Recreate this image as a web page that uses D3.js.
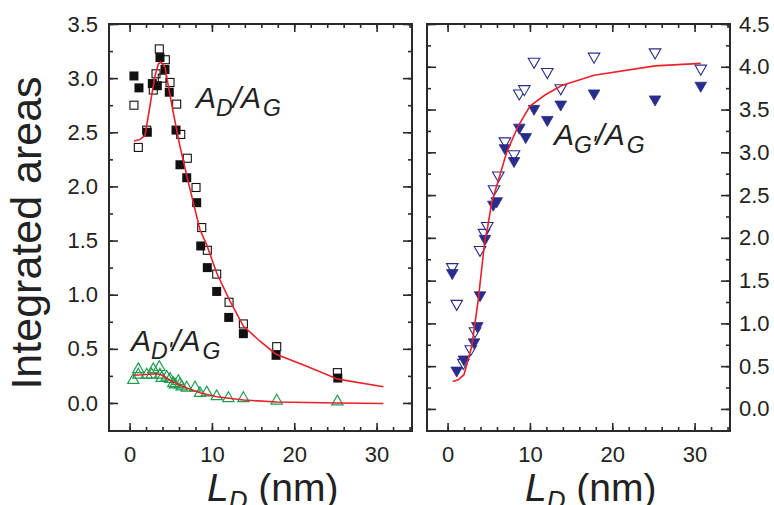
<!DOCTYPE html>
<html><head><meta charset="utf-8">
<script src="https://cdn.jsdelivr.net/npm/d3@7"></script>
<style>html,body{margin:0;padding:0;background:#fff;}svg{display:block;font-family:"Liberation Sans",Arial,sans-serif;}</style>
</head><body>
<svg id="c" width="774" height="505"></svg>
<script>
// ---- Data ----
// Left panel: A_D/A_G (filled and open squares)
const adFilledX = [0.53, 1.14, 2.15, 2.76, 3.37, 3.69, 4.30, 4.82, 5.64, 6.12, 6.94, 8.15, 8.64, 9.44, 10.58, 12.04, 13.82, 17.79, 25.29];
const adFilledY = [3.02, 2.91, 2.50, 2.95, 2.93, 3.19, 3.08, 2.87, 2.52, 2.20, 2.08, 1.85, 1.45, 1.25, 1.03, 0.79, 0.64, 0.44, 0.23];
const adOpenX = [0.53, 1.06, 2.08, 2.88, 3.21, 3.61, 3.97, 4.34, 4.91, 5.72, 6.21, 7.01, 8.07, 8.76, 9.44, 10.58, 12.08, 13.82, 17.87, 25.24];
const adOpenY = [2.75, 2.36, 2.52, 2.89, 3.04, 3.27, 3.00, 3.17, 2.96, 2.76, 2.48, 2.26, 1.99, 1.62, 1.41, 1.19, 0.93, 0.73, 0.52, 0.28];
const adFitX = [0.53, 1.18, 1.87, 2.27, 2.68, 3.09, 3.49, 3.82, 4.3, 4.7, 5.31, 6.12, 6.94, 7.74, 8.55, 9.37, 10.58, 12.2, 13.82, 15.84, 17.79, 21.52, 25.29, 30.83];
const adFitY = [2.42, 2.43, 2.47, 2.65, 2.84, 3.02, 3.13, 3.15, 3.10, 2.93, 2.68, 2.37, 2.10, 1.85, 1.60, 1.46, 1.20, 0.94, 0.71, 0.57, 0.45, 0.34, 0.22, 0.15];
// Left panel: A_D'/A_G (green open triangles)
const adpX = [0.45, 1.06, 1.06, 2.08, 2.68, 2.88, 3.61, 3.69, 3.90, 4.51, 4.91, 5.31, 5.52, 5.92, 6.12, 6.33, 6.94, 7.95, 8.55, 9.37, 10.58, 12.0, 13.82, 17.87, 25.24];
const adpY = [0.21, 0.31, 0.26, 0.26, 0.26, 0.31, 0.33, 0.26, 0.23, 0.24, 0.22, 0.18, 0.17, 0.20, 0.17, 0.15, 0.14, 0.14, 0.09, 0.095, 0.06, 0.043, 0.043, 0.02, 0.012];
const adpFitX = [0.45, 1.5, 3.29, 4.0, 4.91, 6.52, 8.55, 10.58, 13.82, 17.87, 25.29, 30.83];
const adpFitY = [0.256, 0.26, 0.27, 0.255, 0.21, 0.15, 0.095, 0.058, 0.028, 0.009, 0.0, -0.005];
// Right panel: A_G'/A_G (open and filled down-triangles)
const agOpenX = [0.57, 1.11, 1.91, 2.81, 3.33, 3.94, 4.42, 4.82, 5.64, 6.16, 6.97, 8.07, 8.71, 9.32, 10.5, 12.11, 13.74, 17.79, 25.2, 30.75];
const agOpenY = [1.66, 1.23, 0.54, 0.70, 0.91, 1.86, 2.06, 2.14, 2.57, 2.73, 3.13, 2.98, 3.69, 3.74, 4.06, 3.94, 3.75, 4.12, 4.17, 3.98];
const agFilledX = [0.57, 1.11, 1.99, 3.21, 3.61, 3.94, 4.54, 5.55, 5.97, 6.97, 8.07, 8.71, 9.49, 10.5, 12.11, 13.74, 17.79, 25.2, 30.75];
const agFilledY = [1.59, 0.45, 0.58, 0.78, 0.97, 1.33, 1.99, 2.39, 2.43, 3.05, 2.90, 3.29, 3.18, 3.51, 3.38, 3.56, 3.69, 3.62, 3.78];
const agFitX = [0.62, 1.30, 1.99, 2.93, 3.73, 4.54, 4.82, 5.36, 5.97, 7.18, 8.59, 10.01, 11.83, 13.86, 17.79, 25.2, 30.75];
const agFitY = [0.32, 0.34, 0.40, 0.73, 1.28, 1.98, 2.10, 2.41, 2.61, 3.00, 3.31, 3.54, 3.67, 3.78, 3.90, 4.01, 4.04];
// Tick labels
const xTickLabels = ["0", "10", "20", "30"];
const leftYTickLabels = ["0.0", "0.5", "1.0", "1.5", "2.0", "2.5", "3.0", "3.5"];
const rightYTickLabels = ["0.0", "0.5", "1.0", "1.5", "2.0", "2.5", "3.0", "3.5", "4.0", "4.5"];

// ---- Layout ----
const svg = d3.select("#c");
const yTop = 24, yBot = 431;
const L = {x0: 109, x1: 412}, R = {x0: 427, x1: 730};
const xL = d3.scaleLinear().domain([-2.5, 34.3]).range([L.x0, L.x1]);
const xR = d3.scaleLinear().domain([-2.5, 34.3]).range([R.x0, R.x1]);
const yL = d3.scaleLinear().domain([-0.259, 3.5]).range([yBot, yTop]);
const yR = d3.scaleLinear().domain([-0.258, 4.5]).range([yBot, yTop]);
const axisColor = "#2a2a2a";
const red = "#e8212b", navy = "#282c8a", green = "#1f9e4f";

function frame(xs, ys, yLabels, labelSide) {
  const g = svg.append("g");
  const xMinor = d3.range(0, 34.01, 2);
  const yMax = ys.domain()[1];
  const yMinor = d3.range(0, yMax + 0.001, 0.25);
  g.append("g").attr("transform", `translate(0,${yBot})`)
    .call(d3.axisBottom(xs).tickValues(xMinor).tickSize(-4).tickFormat(""));
  g.append("g").attr("transform", `translate(0,${yBot})`)
    .call(d3.axisBottom(xs).tickValues([0, 10, 20, 30]).tickSize(-8).tickPadding(15).tickFormat((d, i) => xTickLabels[i]));
  g.append("g").attr("transform", `translate(0,${yTop})`)
    .call(d3.axisTop(xs).tickValues(xMinor).tickSize(-4).tickFormat(""));
  g.append("g").attr("transform", `translate(0,${yTop})`)
    .call(d3.axisTop(xs).tickValues([0, 10, 20, 30]).tickSize(-8).tickFormat(""));
  const x0 = xs.range()[0], x1 = xs.range()[1];
  const majors = d3.range(0, yMax + 0.001, 0.5);
  g.append("g").attr("transform", `translate(${x0},0)`)
    .call(d3.axisLeft(ys).tickValues(yMinor).tickSize(-4).tickFormat(""));
  g.append("g").attr("transform", `translate(${x0},0)`)
    .call(d3.axisLeft(ys).tickValues(majors).tickSize(-9).tickPadding(11)
      .tickFormat((d, i) => labelSide === "left" ? yLabels[i] : ""));
  g.append("g").attr("transform", `translate(${x1},0)`)
    .call(d3.axisRight(ys).tickValues(yMinor).tickSize(-4).tickFormat(""));
  g.append("g").attr("transform", `translate(${x1},0)`)
    .call(d3.axisRight(ys).tickValues(majors).tickSize(-9).tickPadding(9)
      .tickFormat((d, i) => labelSide === "right" ? yLabels[i] : ""));
  g.selectAll(".domain").remove();
  g.selectAll(".tick line").attr("stroke", axisColor).attr("stroke-width", 1.6);
  g.selectAll(".tick text").attr("fill", "#222").style("font-size", "22px").style("font-family", "'Liberation Sans', Arial, sans-serif");
  g.append("rect").attr("x", x0).attr("y", yTop).attr("width", x1 - x0).attr("height", yBot - yTop)
    .attr("fill", "none").attr("stroke", axisColor).attr("stroke-width", 2);
  return g;
}

const line = (xs, ys) => d3.line().x(d => xs(d[0])).y(d => ys(d[1]));
const zip = (a, b) => a.map((v, i) => [v, b[i]]);

// Left panel
frame(xL, yL, leftYTickLabels, "left");
const gl = svg.append("g");
gl.selectAll(".fsq").data(zip(adFilledX, adFilledY)).join("rect")
  .attr("x", d => xL(d[0]) - 4.5).attr("y", d => yL(d[1]) - 4.5).attr("width", 9).attr("height", 9)
  .attr("fill", "#111");
gl.selectAll(".osq").data(zip(adOpenX, adOpenY)).join("rect")
  .attr("x", d => xL(d[0]) - 4).attr("y", d => yL(d[1]) - 4).attr("width", 8).attr("height", 8)
  .attr("fill", "none").attr("stroke", "#111").attr("stroke-width", 1.1);
const triUp = d3.symbol().type(d3.symbolTriangle).size(55);
gl.selectAll(".tri").data(zip(adpX, adpY)).join("path")
  .attr("d", triUp).attr("transform", d => `translate(${xL(d[0])},${yL(d[1])})`)
  .attr("fill", "none").attr("stroke", green).attr("stroke-width", 1.2);
gl.append("path").datum(zip(adFitX, adFitY)).attr("d", line(xL, yL))
  .attr("fill", "none").attr("stroke", red).attr("stroke-width", 1.6);
gl.append("path").datum(zip(adpFitX, adpFitY)).attr("d", line(xL, yL))
  .attr("fill", "none").attr("stroke", red).attr("stroke-width", 1.6);

// Right panel
frame(xR, yR, rightYTickLabels, "right");
const gr = svg.append("g");
const triDown = d3.symbol().type(d3.symbolTriangle).size(58);
gr.selectAll(".ot").data(zip(agOpenX, agOpenY)).join("path")
  .attr("d", triDown).attr("transform", d => `translate(${xR(d[0])},${yR(d[1])}) rotate(180)`)
  .attr("fill", "#fff").attr("stroke", navy).attr("stroke-width", 1.1);
gr.selectAll(".ft").data(zip(agFilledX, agFilledY)).join("path")
  .attr("d", triDown).attr("transform", d => `translate(${xR(d[0])},${yR(d[1])}) rotate(180)`)
  .attr("fill", navy).attr("stroke", navy).attr("stroke-width", 0.8);
gr.append("path").datum(zip(agFitX, agFitY)).attr("d", line(xR, yR))
  .attr("fill", "none").attr("stroke", red).attr("stroke-width", 1.6);

// Annotations
function ratioLabel(x, y, sub1, sub2) {
  const t = svg.append("text").attr("x", x).attr("y", y).attr("fill", "#222")
    .style("font-style", "italic").style("font-size", "30px");
  t.append("tspan").text("A");
  t.append("tspan").attr("dy", 8).style("font-size", "23px").text(sub1);
  t.append("tspan").attr("dy", -8).text("/");
  t.append("tspan").text("A");
  t.append("tspan").attr("dy", 8).attr("dx", 2).style("font-size", "23px").text(sub2);
}
ratioLabel(196, 108, "D", "G");
ratioLabel(131, 351, "D'", "G");
ratioLabel(554, 145, "G'", "G");

// Axis titles
svg.append("text").attr("transform", "translate(41,233) rotate(-90)").attr("text-anchor", "middle")
  .attr("fill", "#222").style("font-size", "43px").text("Integrated areas");
function xTitle(x) {
  const t = svg.append("text").attr("x", x).attr("y", 501).attr("fill", "#222").style("font-size", "39px");
  t.append("tspan").style("font-style", "italic").text("L");
  t.append("tspan").attr("dy", 8).style("font-style", "italic").style("font-size", "26px").text("D");
  t.append("tspan").attr("dy", -8).text(" (nm)");
}
xTitle(207);
xTitle(525);
</script>
</body></html>
